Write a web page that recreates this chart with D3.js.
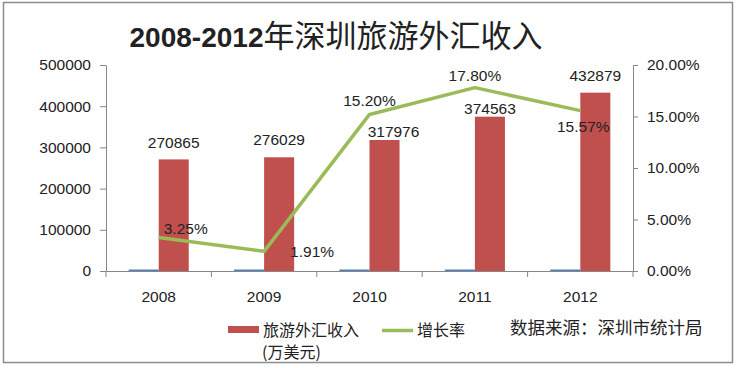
<!DOCTYPE html>
<html>
<head>
<meta charset="utf-8">
<script src="https://cdn.jsdelivr.net/npm/d3@7/dist/d3.min.js"></script>
<style>
  body { margin: 0; background: #fff; }
  svg text { font-family: "Liberation Sans", Arial, "Noto Sans CJK SC", sans-serif; fill: #222; }
  .cjk { font-family: "Noto Sans CJK SC", sans-serif; }
</style>
</head>
<body>
<svg id="chart" width="737" height="368"></svg>
<script>
// data
var years = ["2008", "2009", "2010", "2011", "2012"];
var income = [270865, 276029, 317976, 374563, 432879];   // 万美元
var growth = [3.25, 1.91, 15.20, 17.80, 15.57];           // %
var leftTicks = [0, 100000, 200000, 300000, 400000, 500000];
var rightTicks = [0, 5, 10, 15, 20];

// label nudges (px), as placed in the original
var incomeLabelShift = [[0, -17], [0, -18], [9, -8], [0, -8], [0, -17]];
var growthLabelShift = [[27, -9], [48, 0], [0, -14], [0, -12], [3, 16]];

var svg = d3.select("#chart");
var plotLeft = 106, plotRight = 633, plotTop = 65, plotBottom = 271;
var axisColor = "#868686";

// outer frame
svg.append("rect")
  .attr("x", 3.5).attr("y", 2.5).attr("width", 729).attr("height", 360)
  .attr("fill", "none").attr("stroke", "#8c8c8c").attr("stroke-width", 1.5);

// title
var title = svg.append("text")
  .attr("x", 336).attr("y", 47)
  .attr("text-anchor", "middle");
title.append("tspan").text("2008-2012")
  .style("font-size", "28px").style("font-weight", "bold")
  .style("font-family", "'Liberation Sans Narrow', 'Liberation Sans', sans-serif");
title.append("tspan").attr("class", "cjk").text("年深圳旅游外汇收入")
  .style("font-size", "31px");

var x = d3.scaleBand().domain(years).range([plotLeft, plotRight]);
var y = d3.scaleLinear().domain([0, 500000]).range([plotBottom, plotTop]);
var yR = d3.scaleLinear().domain([0, 20]).range([plotBottom, plotTop]);
var barW = x.bandwidth() * 0.285;

// left axis
var gL = svg.append("g").attr("transform", "translate(" + plotLeft + ",0)")
  .call(d3.axisLeft(y).tickValues(leftTicks).tickSize(6).tickSizeOuter(0).tickPadding(9).tickFormat(d3.format("d")));
// right axis
var gR = svg.append("g").attr("transform", "translate(" + plotRight + ",0)")
  .call(d3.axisRight(yR).tickValues(rightTicks).tickSize(5).tickSizeOuter(0).tickPadding(9)
    .tickFormat(function(d) { return d.toFixed(2) + "%"; }));
// bottom axis: labels at centres, ticks at category boundaries
var gB = svg.append("g").attr("transform", "translate(0," + plotBottom + ")")
  .call(d3.axisBottom(x).tickSize(0).tickSizeOuter(0).tickPadding(20));
var edges = years.map(function(d) { return x(d); }).concat([plotRight]);
gB.selectAll(".edge").data(edges).enter().append("line")
  .attr("class", "edge")
  .attr("x1", function(d) { return d; }).attr("x2", function(d) { return d; })
  .attr("y1", 0).attr("y2", 6)
  .attr("stroke", axisColor);

[gL, gR, gB].forEach(function(g) {
  g.select(".domain").attr("stroke", axisColor);
  g.selectAll(".tick line").attr("stroke", axisColor);
  g.selectAll("text").style("font-size", "15.5px").attr("fill", "#222");
});

// near-zero companion series (growth plotted on primary axis)
svg.selectAll(".blue").data(growth).enter().append("rect")
  .attr("class", "blue")
  .attr("x", function(d, i) { return x(years[i]) + x.bandwidth() / 2 - barW; })
  .attr("width", barW)
  .attr("y", function(d) { return y(d / 100) - 1.5; })
  .attr("height", 1.5)
  .attr("fill", "#4F81BD");

// income bars
svg.selectAll(".bar").data(income).enter().append("rect")
  .attr("class", "bar")
  .attr("x", function(d, i) { return x(years[i]) + x.bandwidth() / 2; })
  .attr("width", barW)
  .attr("y", function(d) { return y(d); })
  .attr("height", function(d) { return plotBottom - y(d); })
  .attr("fill", "#C0504D");

// growth line
var line = d3.line()
  .x(function(d, i) { return x(years[i]) + x.bandwidth() / 2; })
  .y(function(d) { return yR(d); });
svg.append("path").datum(growth)
  .attr("d", line)
  .attr("fill", "none")
  .attr("stroke", "#9BBB59")
  .attr("stroke-width", 3.5)
  .attr("stroke-linejoin", "round");

// labels
svg.selectAll(".barlabel").data(income).enter().append("text")
  .attr("class", "barlabel")
  .attr("text-anchor", "middle")
  .attr("dominant-baseline", "central")
  .attr("x", function(d, i) { return x(years[i]) + x.bandwidth() / 2 + barW / 2 + incomeLabelShift[i][0]; })
  .attr("y", function(d, i) { return y(d) + incomeLabelShift[i][1]; })
  .style("font-size", "15.5px")
  .text(function(d) { return d; });

svg.selectAll(".ratelabel").data(growth).enter().append("text")
  .attr("class", "ratelabel")
  .attr("text-anchor", "middle")
  .attr("dominant-baseline", "central")
  .attr("x", function(d, i) { return x(years[i]) + x.bandwidth() / 2 + growthLabelShift[i][0]; })
  .attr("y", function(d, i) { return yR(d) + growthLabelShift[i][1]; })
  .style("font-size", "15.5px")
  .text(function(d) { return d.toFixed(2) + "%"; });

// legend
var lg = svg.append("g");
lg.append("rect").attr("x", 228).attr("y", 326).attr("width", 31).attr("height", 7).attr("fill", "#C0504D");
lg.append("text").attr("class", "cjk").attr("x", 263).attr("y", 336).style("font-size", "16px").text("旅游外汇收入");
lg.append("text").attr("class", "cjk").attr("x", 262).attr("y", 358).style("font-size", "16px").text("(万美元)");
lg.append("line").attr("x1", 382).attr("x2", 413).attr("y1", 330.5).attr("y2", 330.5)
  .attr("stroke", "#9BBB59").attr("stroke-width", 3.5);
lg.append("text").attr("class", "cjk").attr("x", 417).attr("y", 336).style("font-size", "16px").text("增长率");

svg.append("text").attr("class", "cjk")
  .attr("x", 510).attr("y", 334)
  .style("font-size", "17.5px")
  .text("数据来源：深圳市统计局");
</script>
</body>
</html>
